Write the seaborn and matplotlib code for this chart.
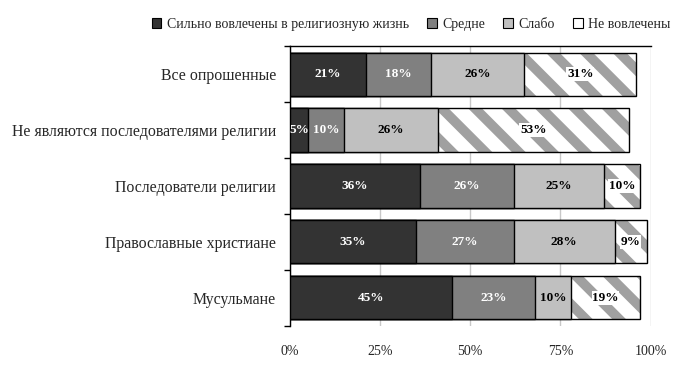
import matplotlib
matplotlib.use("Agg")
import matplotlib.pyplot as plt
import seaborn as sns
import numpy as np
from matplotlib.patches import Patch

groups = ["Все опрошенные", "Не являются последователями религии",
          "Последователи религии", "Православные христиане", "Мусульмане"]
series = ["Сильно вовлечены в религиозную жизнь", "Средне", "Слабо", "Не вовлечены"]
strong = [21, 5, 36, 35, 45]
medium = [18, 10, 26, 27, 23]
weak = [26, 26, 25, 28, 10]
none_ = [31, 53, 10, 9, 19]

sns.set_theme(style="white")
plt.rcParams["font.family"] = ["Liberation Serif", "DejaVu Serif"]
plt.rcParams["hatch.linewidth"] = 7

fig = plt.figure(figsize=(6.9, 3.78), dpi=100)
ax = fig.add_axes([0.420, 0.138, 0.523, 0.740])

vals = np.array([strong, medium, weak, none_], dtype=float)
cum = vals.cumsum(axis=0)
colors = ["#333333", "#808080", "#c0c0c0", "white"]
w = 0.77

# pattern layer first (full length), then outline, then the others on top
sns.barplot(x=cum[3], y=groups, orient="h", color="white", width=w,
            edgecolor="#a0a0a0", linewidth=0, hatch="\\", saturation=1, ax=ax, zorder=2)
sns.barplot(x=cum[3], y=groups, orient="h", fill=False, width=w,
            edgecolor="black", linewidth=1, ax=ax, zorder=3)
for i in [2, 1, 0]:
    sns.barplot(x=cum[i], y=groups, orient="h", color=colors[i], width=w,
                edgecolor="black", linewidth=1, saturation=1, ax=ax, zorder=4)

# labels
for i in range(4):
    for j in range(len(groups)):
        v = vals[i, j]
        c = cum[i, j] - v / 2
        col = "white" if i < 2 else "black"
        kw = {}
        if i == 3:
            kw["bbox"] = dict(facecolor="white", edgecolor="none", pad=0.5)
        ax.text(c, j, f"{int(v)}%", ha="center", va="center", color=col,
                fontsize=9.5, fontweight="bold", zorder=6, **kw)

ax.set_xlim(0, 100)
ax.set_ylim(4.5, -0.5)
ax.set_xticks([0, 25, 50, 75, 100])
ax.set_xticklabels(["0%", "25%", "50%", "75%", "100%"], fontsize=10)
ax.tick_params(axis="x", length=0, pad=14)
ax.xaxis.grid(True, color="#c8c8c8", linewidth=1)
ax.set_axisbelow(True)
ax.set_yticks(range(len(groups)))
ax.set_yticklabels(groups, fontsize=11.4)
ax.set_yticks(np.arange(-0.5, 5, 1), minor=True)
ax.tick_params(axis="y", which="major", length=0, pad=10)
ax.tick_params(axis="y", which="minor", length=4, width=1, color="black", left=True, direction="out")
ax.set_xlabel("")
ax.set_ylabel("")
for s in ["right", "bottom"]:
    ax.spines[s].set_visible(False)
for s in ["left", "top"]:
    ax.spines[s].set_color("black")
    ax.spines[s].set_linewidth(1)

handles = [Patch(facecolor=c, edgecolor="black", linewidth=0.8) for c in colors]
fig.legend(handles, series, loc="upper right", bbox_to_anchor=(0.99, 0.985), ncol=4,
           frameon=False, fontsize=10, handlelength=0.7, handleheight=0.7,
           handletextpad=0.4, columnspacing=1.3)

fig.savefig("out.png", dpi=100)
